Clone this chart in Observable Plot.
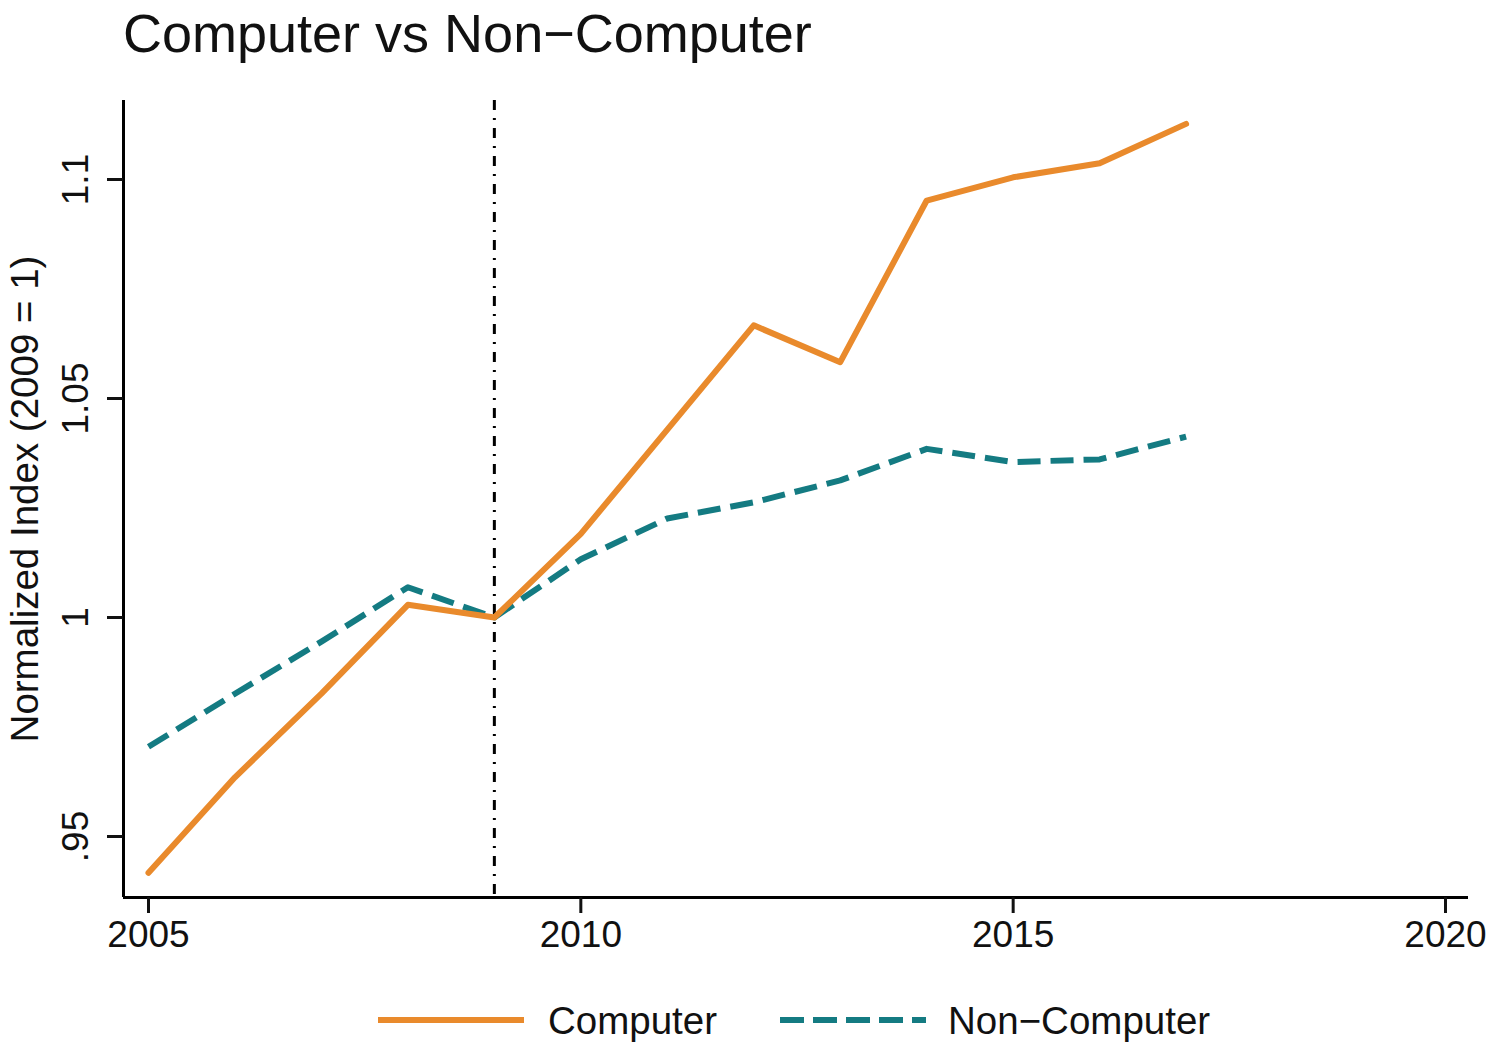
<!DOCTYPE html>
<html>
<head>
<meta charset="utf-8">
<script src="https://cdn.jsdelivr.net/npm/d3@7"></script>
<script src="https://cdn.jsdelivr.net/npm/@observablehq/plot@0.6"></script>
<style>
  html, body { margin: 0; padding: 0; background: #fff; }
  body { width: 1496px; height: 1056px; position: relative; overflow: hidden;
         font-family: "Liberation Sans", Arial, Helvetica, sans-serif; color: #111; }
  #title { position: absolute; left: 123px; top: 6px; font-size: 54px; line-height: 1; white-space: nowrap; }
  #chart { position: absolute; left: 0; top: 80px; }
  .leg { position: absolute; top: 0; font-size: 38.5px; line-height: 1; white-space: nowrap; }
  .sw { position: absolute; }
</style>
</head>
<body>
<div id="title">Computer vs Non−Computer</div>
<div id="chart"></div>
<div id="legend"></div>
<script>
const years = [2005, 2006, 2007, 2008, 2009, 2010, 2011, 2012, 2013, 2014, 2015, 2016, 2017];
const computer = [0.9417, 0.9635, 0.9826, 1.0029, 1.0, 1.0191, 1.0429, 1.0667, 1.0583, 1.0952, 1.1005, 1.1037, 1.1127];
const nonComputer = [0.9705, 0.9826, 0.9945, 1.0069, 1.0, 1.0133, 1.0226, 1.0263, 1.0313, 1.0385, 1.0355, 1.0361, 1.0413];
const seriesNames = ["Computer", "Non−Computer"];
const seriesColors = ["#E98A2C", "#147B82"];
const xTicks = [2005, 2010, 2015, 2020];
const xTickLabels = ["2005", "2010", "2015", "2020"];
const yTicks = [0.95, 1, 1.05, 1.1];
const yTickLabels = [".95", "1", "1.05", "1.1"];
const markerYear = [2009];
const yTitle = "Normalized Index (2009 = 1)";

const xDomain = [2004.711, 2020.266];
const yDomain = [0.93607, 1.11804];

const compData = years.map((y, i) => ({year: y, value: computer[i]}));
const nonData = years.map((y, i) => ({year: y, value: nonComputer[i]}));
const yTickData = yTicks.map((v, i) => ({v, label: yTickLabels[i]}));

const plot = Plot.plot({
  width: 1496,
  height: 900,
  marginTop: 20,
  marginBottom: 83,
  marginLeft: 123,
  marginRight: 28,
  style: {fontFamily: '"Liberation Sans", Arial, Helvetica, sans-serif', background: "#fff", color: "#111", overflow: "visible"},
  x: {domain: xDomain},
  y: {domain: yDomain},
  marks: [
    Plot.ruleX(markerYear, {stroke: "#000", strokeWidth: 3, strokeDasharray: "10,8,2,8"}),
    Plot.ruleX([xDomain[0]], {stroke: "#000", strokeWidth: 3}),
    Plot.ruleY([yDomain[0]], {stroke: "#000", strokeWidth: 3}),
    Plot.axisX({ticks: xTicks, tickSize: 16, tickPadding: 7, strokeWidth: 3, fontSize: 37,
                tickFormat: d => xTickLabels[xTicks.indexOf(d)], label: null}),
    Plot.axisY({ticks: yTicks, tickSize: 16, strokeWidth: 3, tickFormat: () => "", label: null}),
    Plot.text(yTickData, {y: "v", text: "label", frameAnchor: "left", rotate: -90, dx: -36,
                          lineAnchor: "bottom", textAnchor: "middle", fontSize: 37, fill: "#111"}),
    Plot.text([yTitle], {frameAnchor: "left", rotate: -90, dx: -86, lineAnchor: "bottom",
                         textAnchor: "middle", fontSize: 38.5, fill: "#111"}),
    Plot.line(nonData, {x: "year", y: "value", stroke: seriesColors[1], strokeWidth: 6,
                        strokeDasharray: "23,10", strokeLinecap: "butt", strokeLinejoin: "round"}),
    Plot.line(compData, {x: "year", y: "value", stroke: seriesColors[0], strokeWidth: 6,
                         strokeLinecap: "round", strokeLinejoin: "round"})
  ]
});
document.getElementById("chart").appendChild(plot);

// Legend (HTML)
const legend = document.getElementById("legend");
legend.style.position = "absolute";
legend.style.left = "0px";
legend.style.top = "0px";
const legItems = [
  {sx: 378, sw: 146, tx: 548, dash: null},
  {sx: 780, sw: 146, tx: 948, dash: "24,9"}
];
legItems.forEach((it, i) => {
  const svgNS = "http://www.w3.org/2000/svg";
  const s = document.createElementNS(svgNS, "svg");
  s.setAttribute("width", it.sw);
  s.setAttribute("height", 12);
  s.setAttribute("class", "sw");
  s.style.left = it.sx + "px";
  s.style.top = "1014px";
  const l = document.createElementNS(svgNS, "line");
  l.setAttribute("x1", 0); l.setAttribute("x2", it.sw);
  l.setAttribute("y1", 6); l.setAttribute("y2", 6);
  l.setAttribute("stroke", seriesColors[i]);
  l.setAttribute("stroke-width", 6);
  if (it.dash) l.setAttribute("stroke-dasharray", it.dash);
  s.appendChild(l);
  legend.appendChild(s);
  const t = document.createElement("div");
  t.className = "leg";
  t.textContent = seriesNames[i];
  t.style.left = it.tx + "px";
  t.style.top = "1002px";
  legend.appendChild(t);
});
</script>
</body>
</html>
